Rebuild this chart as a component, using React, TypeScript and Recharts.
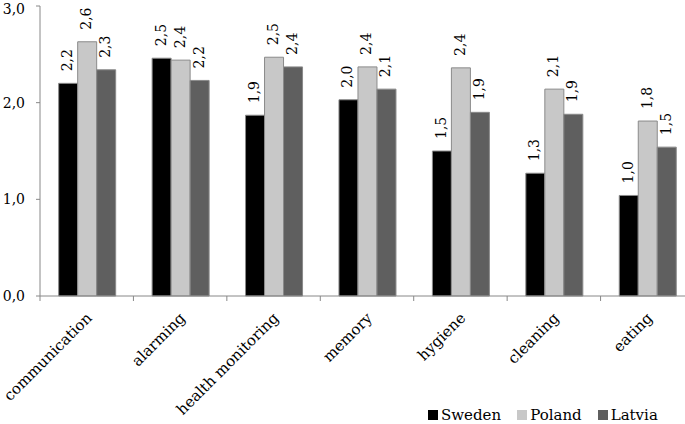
import { Bar, BarChart, Legend, XAxis, YAxis, LabelList } from 'recharts';

const categories = ['communication', 'alarming', 'health monitoring', 'memory', 'hygiene', 'cleaning', 'eating'];
const sweden = [2.2, 2.46, 1.87, 2.03, 1.5, 1.27, 1.04];
const poland = [2.63, 2.44, 2.47, 2.37, 2.36, 2.14, 1.81];
const latvia = [2.34, 2.23, 2.37, 2.14, 1.9, 1.88, 1.54];
const yTicks = [0, 1, 2, 3];

const series = [
  { key: 'sweden', name: 'Sweden', fill: '#000000' },
  { key: 'poland', name: 'Poland', fill: '#c8c8c8' },
  { key: 'latvia', name: 'Latvia', fill: '#5f5f5f' },
];

const data = categories.map((c, i) => ({
  category: c,
  sweden: sweden[i],
  poland: poland[i],
  latvia: latvia[i],
}));

const FONT = '"DejaVu Serif", serif';
const fmt = (v: number) => v.toFixed(1).replace('.', ',');

function ValueLabel(props: any) {
  const { x, y, width, value } = props;
  const cx = x + width / 2 + 4;
  const ty = y - 12;
  return (
    <text
      x={cx}
      y={ty}
      transform={`rotate(-90, ${cx}, ${ty})`}
      textAnchor="start"
      style={{ fontFamily: FONT }}
      fontSize={14}
      fill="#000"
    >
      {fmt(value)}
    </text>
  );
}

function CategoryTick(props: any) {
  const { x, y, payload } = props;
  const edge = x - (payload.offset || 0);
  const tx = x + 6;
  const ty = y + 23;
  return (
    <g>
      <line x1={edge} y1={y} x2={edge} y2={y + 5} stroke="#888" />
      <text
        x={tx}
        y={ty}
        transform={`rotate(-45, ${tx}, ${ty})`}
        textAnchor="end"
        style={{ fontFamily: FONT }}
        fontSize={15}
        fill="#000"
      >
        {payload.value}
      </text>
    </g>
  );
}

function YTick(props: any) {
  const { x, y, payload } = props;
  return (
    <text x={x} y={y} dy={5} textAnchor="end" style={{ fontFamily: FONT }} fontSize={14} fill="#000">
      {fmt(payload.value)}
    </text>
  );
}

function LegendContent() {
  return (
    <div style={{ display: 'flex', fontFamily: FONT, fontSize: 15, color: '#000', lineHeight: '20px' }}>
      {series.map((s) => (
        <div key={s.key} style={{ display: 'flex', alignItems: 'center', marginRight: 16 }}>
          <span style={{ width: 10, height: 10, background: s.fill, marginRight: 3, display: 'inline-block' }} />
          {s.name}
        </div>
      ))}
    </div>
  );
}

export default function App() {
  return (
    <div style={{ position: 'absolute', left: 0, top: 0, width: 685, height: 424, overflow: 'hidden', background: '#fff' }}>
      <BarChart
        width={700}
        height={424}
        data={data}
        margin={{ top: 6, right: 6, left: 0, bottom: 0 }}
        barCategoryGap="20%"
        barGap={0}
      >
        <XAxis
          dataKey="category"
          interval={0}
          height={108}
          tickSize={0}
          tickMargin={0}
          tickLine={false}
          axisLine={{ stroke: '#888' }}
          tick={<CategoryTick />}
        />
        <YAxis
          width={40}
          domain={[0, 3]}
          ticks={yTicks}
          tickSize={4}
          tickMargin={11}
          axisLine={{ stroke: '#888' }}
          tickLine={{ stroke: '#888' }}
          tick={<YTick />}
        />
        <Legend
          verticalAlign="bottom"
          height={20}
          content={<LegendContent />}
          wrapperStyle={{ left: 428, width: 260, bottom: -1 }}
        />
        {series.map((s) => (
          <Bar key={s.key} dataKey={s.key} name={s.name} fill={s.fill} stroke="#8a8a8a" strokeWidth={1} isAnimationActive={false}>
            <LabelList dataKey={s.key} content={<ValueLabel />} />
          </Bar>
        ))}
      </BarChart>
    </div>
  );
}
